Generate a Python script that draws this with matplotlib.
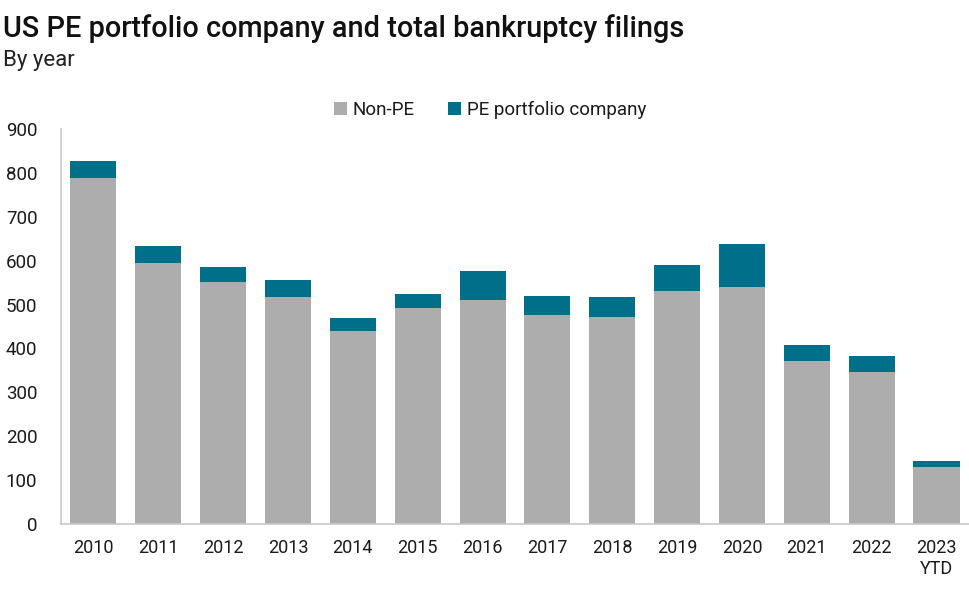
import matplotlib
matplotlib.use("Agg")
import matplotlib.pyplot as plt
import numpy as np

years = ["2010", "2011", "2012", "2013", "2014", "2015", "2016", "2017",
         "2018", "2019", "2020", "2021", "2022", "2023\nYTD"]
non_pe = [790, 596, 551, 518, 439, 493, 511, 476, 472, 531, 541, 371, 347, 128]
pe = [38, 38, 35, 39, 31, 32, 65, 43, 45, 60, 97, 36, 36, 15]

grey = "#ADADAD"
teal = "#006F8A"
text_c = "#1A1A1A"

plt.rcParams['font.family'] = ['Liberation Sans Narrow', 'Roboto', 'DejaVu Sans']

fig = plt.figure(figsize=(9.7, 5.89), dpi=100)
ax = fig.add_axes([0.0629, 0.1112, 0.936, 0.669])

x = np.arange(len(years))
ax.bar(x, non_pe, width=0.71, color=grey, label="Non-PE", zorder=2)
ax.bar(x, pe, width=0.71, bottom=non_pe, color=teal, label="PE portfolio company", zorder=2)

ax.set_xlim(-0.5, len(years) - 0.5)
ax.set_ylim(0, 900)
ax.set_yticks(np.arange(0, 901, 100))
ax.set_xticks(x)
ax.set_xticklabels(years, fontsize=13, color=text_c, va="top")
ax.tick_params(axis="y", labelsize=13.5, colors=text_c, length=0, pad=17)
ax.tick_params(axis="x", length=0, pad=11)
for lbl in ax.get_yticklabels():
    lbl.set_horizontalalignment("right")
for s in ["top", "right"]:
    ax.spines[s].set_visible(False)
for s in ["left", "bottom"]:
    ax.spines[s].set_color("#C8C8C8")
    ax.spines[s].set_linewidth(1.2)

leg = fig.legend(loc="center", bbox_to_anchor=(0.505, 0.813), ncol=2, frameon=False,
                 fontsize=13.5, handlelength=0.7, handleheight=0.7, handletextpad=0.3,
                 columnspacing=1.8)
for t in leg.get_texts():
    t.set_color(text_c)

fig.text(0.003, 0.952, "US PE portfolio company and total bankruptcy filings",
         fontsize=20.8, color="#111111", ha="left", va="center", fontweight="medium")
fig.text(0.003, 0.898, "By year", fontsize=16, color="#222222", ha="left", va="center")

fig.savefig("out.png", dpi=100)
